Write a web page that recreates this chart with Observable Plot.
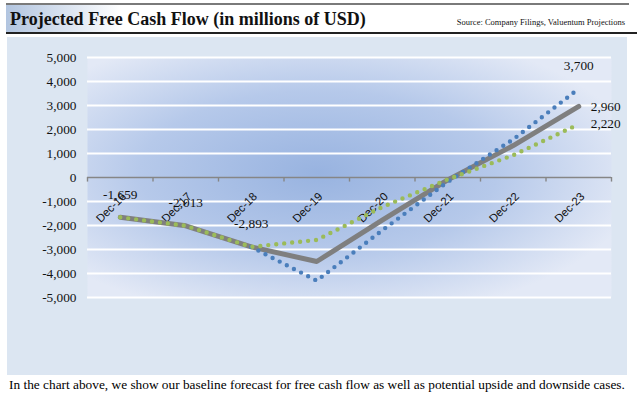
<!DOCTYPE html>
<html>
<head>
<meta charset="utf-8">
<script src="https://cdn.jsdelivr.net/npm/d3@7"></script>
<script src="https://cdn.jsdelivr.net/npm/@observablehq/plot@0.6"></script>
<style>
  html, body { margin: 0; padding: 0; background: #fff; }
  body { width: 640px; height: 401px; position: relative; overflow: hidden; font-family: "Liberation Serif", "Times New Roman", serif; color: #000; }
  .abs { position: absolute; }
  #topline { left: 6px; top: 3px; width: 623px; height: 2px; background: #7a7a7a; }
  #titlebar { left: 6px; top: 5px; width: 623px; height: 27px; background: linear-gradient(90deg, #b2c5e0 0px, #ffffff 115px); }
  #botline { left: 6px; top: 32px; width: 631px; height: 1.5px; background: #222; }
  #title { left: 10px; top: 10px; font-size: 18px; font-weight: bold; line-height: 1; white-space: nowrap; color: #111; }
  #source { right: 15px; top: 18px; font-size: 8.5px; line-height: 1; white-space: nowrap; color: #111; }
  #chart { left: 7px; top: 37px; width: 620px; height: 338px; background: #dce6f2; }
  #caption { left: 9px; top: 378px; font-size: 13.33px; line-height: 1; white-space: nowrap; color: #000; }
</style>
</head>
<body>
<div id="topline" class="abs"></div>
<div id="titlebar" class="abs"></div>
<div id="botline" class="abs"></div>
<div id="title" class="abs">Projected Free Cash Flow (in millions of USD)</div>
<div id="source" class="abs">Source: Company Filings, Valuentum Projections</div>
<div id="chart" class="abs"></div>
<div id="caption" class="abs">In the chart above, we show our baseline forecast for free cash flow as well as potential upside and downside cases.</div>
<script>
// ---- data ----
const categories = ["Dec-16", "Dec-17", "Dec-18", "Dec-19", "Dec-20", "Dec-21", "Dec-22", "Dec-23"];
const baseCase = [-1659, -2013, -2893, -3500, -1780, -100, 1330, 2960];
const upsideCase = [null, null, -2893, -4300, -2200, -180, 1590, 3700];
const downsideCase = [-1659, -2013, -2893, -2600, -1230, -80, 930, 2220];
const yTicks = [-5000, -4000, -3000, -2000, -1000, 0, 1000, 2000, 3000, 4000, 5000];
const baseLabelAbove = [0, 1, 2];
const baseLabelRight = [7];
const upsideLabelAbove = [7];
const downsideLabelRight = [7];

// ---- helpers ----
const fmt = v => (v < 0 ? "-" : "") + d3.format(",")(Math.abs(v));
const rows = vals => vals.map((v, i) => ({i, v})).filter(d => d.v != null);
const pick = (vals, idx) => rows(vals).filter(d => idx.includes(d.i));
const edges = d3.range(categories.length + 1).map(k => k - 0.5);

const serif = "'Liberation Serif', 'Times New Roman', serif";
const plot = Plot.plot({
  width: 620,
  height: 338,
  marginLeft: 80,
  marginRight: 16,
  marginTop: 20,
  marginBottom: 78,
  style: {background: "transparent", fontFamily: serif, fontSize: "13.3px", color: "#000"},
  x: {type: "linear", domain: [-0.5, categories.length - 0.5], axis: null},
  y: {domain: [-5000, 5000], axis: null},
  marks: [
    Plot.frame({fill: "url(#plotGrad)", stroke: "none"}),
    Plot.ruleY(yTicks.filter(t => t !== 0), {stroke: "#ffffff", strokeWidth: 2.2}),
    Plot.text(yTicks, {y: d => d, text: fmt, frameAnchor: "left", textAnchor: "end", dx: -11, fill: "#111", fontSize: 13.3}),
    Plot.ruleY([0], {stroke: "#868686", strokeWidth: 1.4}),
    Plot.ruleX(edges, {y1: 0, y2: -190, stroke: "#868686", strokeWidth: 1.4}),
    Plot.text(categories, {x: (d, i) => i, y: 0, text: d => d, rotate: -45, textAnchor: "end", dx: 4, dy: 17,
      fontFamily: "'Liberation Sans', Arial, sans-serif", fontSize: 11.5, fill: "#111"}),
    Plot.line(rows(baseCase), {x: "i", y: "v", stroke: "#7f7f7f", strokeWidth: 5, strokeLinecap: "round", strokeLinejoin: "round"}),
    Plot.line(rows(upsideCase), {x: "i", y: "v", stroke: "#4a7ebb", strokeWidth: 4.4, strokeLinecap: "round", strokeDasharray: "0 8"}),
    Plot.line(rows(downsideCase), {x: "i", y: "v", stroke: "#9bbb59", strokeWidth: 4.4, strokeLinecap: "round", strokeDasharray: "0 8"}),
    Plot.text(pick(baseCase, baseLabelAbove), {x: "i", y: "v", text: d => fmt(d.v), dy: -23, fill: "#111", fontSize: 13.3}),
    Plot.text(pick(baseCase, baseLabelRight), {x: "i", y: "v", text: d => fmt(d.v), dx: 12, textAnchor: "start", fill: "#111", fontSize: 13.3}),
    Plot.text(pick(upsideCase, upsideLabelAbove), {x: "i", y: "v", text: d => fmt(d.v), dy: -23, fill: "#111", fontSize: 13.3}),
    Plot.text(pick(downsideCase, downsideLabelRight), {x: "i", y: "v", text: d => fmt(d.v), dx: 12, textAnchor: "start", fill: "#111", fontSize: 13.3})
  ]
});

d3.select(plot).insert("defs", ":first-child").html(
  `<radialGradient id="plotGrad" cx="0.44" cy="0.48" r="0.62" gradientUnits="objectBoundingBox">
     <stop offset="0" stop-color="#98b3e0"/>
     <stop offset="0.55" stop-color="#b6c9ea"/>
     <stop offset="1" stop-color="#e3e9f6"/>
   </radialGradient>`
);
document.getElementById("chart").appendChild(plot);
</script>
</body>
</html>
